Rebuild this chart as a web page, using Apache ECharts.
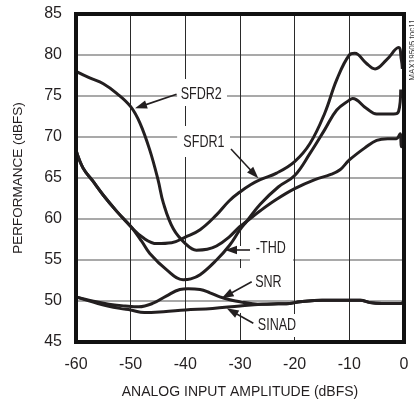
<!DOCTYPE html>
<html><head><meta charset="utf-8">
<script src="https://cdn.jsdelivr.net/npm/echarts@6/dist/echarts.min.js"></script>
<style>html,body{margin:0;padding:0;background:#fff;}#c{width:414px;height:404px;}</style>
</head><body><div id="c"></div>
<script>
// ---- data (x = analog input amplitude dBFS, y = performance dBFS) ----
const sfdr1 = [[-60,68.4],[-58.7,66.2],[-57,64.7],[-55,62.9],[-52.5,60.9],[-50,59.1],[-47.7,57.7],[-45.2,57.0],[-42.5,57.1],[-40,57.8],[-37.3,58.7],[-34.3,60.5],[-32,62.2],[-30,63.3],[-28,64.2],[-26.3,64.8],[-23.3,65.6],[-20,67.0],[-17.2,69.2],[-14.5,72.9],[-12.3,77.0],[-10,80.0],[-9,80.2],[-6.9,79.0],[-5.3,78.3],[-3.2,79.4],[-1.0,80.9],[-0.5,79.5],[-0.3,78.3]];
const sfdr2 = [[-60,78.0],[-57.5,77.2],[-55,76.5],[-52.5,75.3],[-50,73.7],[-48.3,71.7],[-46.5,68.4],[-45,64.8],[-44,61.9],[-42.2,58.8],[-40,57.0],[-38,56.2],[-36,56.3],[-34.3,56.7],[-32,57.8],[-30,59.1],[-28.8,59.7],[-26.3,61.0],[-23.3,62.4],[-20,63.7],[-16.3,64.8],[-13.5,65.4],[-11.7,66.0],[-10,67.2],[-6.9,68.8],[-5,69.6],[-3,69.8],[-1.4,69.8],[-0.7,70.4],[-0.5,68.8],[-0.3,69.6]];
const thd = [[-60,68.4],[-58.7,66.2],[-57,64.7],[-55,62.9],[-52.5,60.9],[-50,59.1],[-48,57.3],[-46.5,55.8],[-43.4,53.8],[-40.4,52.6],[-39,52.7],[-37.3,53.2],[-34.3,55.0],[-31.9,56.8],[-30,58.7],[-28.8,59.7],[-26.3,61.8],[-23,63.9],[-20,65.3],[-17.2,68.0],[-14.5,70.9],[-12.3,73.3],[-10,74.5],[-9.4,74.7],[-6.9,73.5],[-5,72.8],[-1.9,72.8],[-1.0,73.1],[-0.6,75.8]];
const snr = [[-60,50.5],[-57,50.0],[-54,49.6],[-51,49.4],[-48.5,49.3],[-46,49.7],[-43.5,50.6],[-41,51.4],[-39.5,51.5],[-37.3,51.4],[-35.5,51.0],[-33.7,50.5],[-31.5,50.1],[-30,49.9],[-28,49.7],[-26,49.6],[-23,49.65],[-20.9,49.7],[-19,49.9],[-15,50.1],[-10,50.1],[-8,50.1],[-6.2,49.8],[-4,49.7],[-0.7,49.7],[-0.3,49.8]];
const sinad = [[-60,50.5],[-56,49.7],[-52,49.1],[-50,48.9],[-47.5,48.6],[-44,48.7],[-40,48.9],[-35,49.1],[-30,49.4],[-26,49.6],[-23,49.65],[-20.9,49.7],[-19,49.9],[-15,50.1],[-10,50.1],[-8,50.1],[-6.2,49.8],[-4,49.7],[-0.7,49.7],[-0.3,49.8]];
const xTicks = [-60,-50,-40,-30,-20,-10,0];
const yTicks = [45,50,55,60,65,70,75,80,85];
const seriesNames = ['SFDR1','SFDR2','-THD','SNR','SINAD'];

// ---- annotations (data coordinates) ----
const notes = [
  {text:'SFDR2', at:[-37.1,75.24], box:[[-41.5,77.07],[-32.38,73.78]], tail:[-41.6,75.2], tip:[-49.2,73.5]},
  {text:'SFDR1', at:[-36.6,69.39], box:[[-41.5,71.34],[-31.83,67.56]], tail:[-31.65,68.54], tip:[-26.65,64.96]},
  {text:'-THD',  at:[-24.37,56.46], box:[[-28.17,57.44],[-20.3,54.76]], tail:[-28.17,56.22], tip:[-32.74,56.22]},
  {text:'SNR',   at:[-24.8,52.32], box:[[-27.8,53.66],[-21.22,51.1]], tail:[-27.86,52.35], tip:[-33.35,50.33]},
  {text:'SINAD', at:[-23.23,47.07], box:[[-27.44,48.41],[-19.02,45.61]], tail:[-27.57,47.28], tip:[-32.43,49.11]}
];
const gaps = [ [[-30.6,56.71],[-29.4,55.12]], [[-30.6,54.02],[-29.4,48.54]] ];

const INK = '#231f20';
const FONT = '"Liberation Sans", Arial, sans-serif';

const chart = echarts.init(document.getElementById('c'), null, {renderer:'canvas'});
const grid = {left:76, top:14, width:328, height:328};
const mk = (name, data) => ({name, type:'line', data, showSymbol:false, symbol:'none', smooth:0.4,
  lineStyle:{color:INK, width:3}, z:3});
chart.setOption({
  animation:false,
  backgroundColor:'#fff',
  grid,
  xAxis:{type:'value', min:xTicks[0], max:xTicks[xTicks.length-1], interval:10,
    axisLine:{show:false}, axisTick:{show:false},
    splitLine:{show:true, lineStyle:{color:'#2a2a2a', width:1}},
    axisLabel:{margin:15, fontSize:16, fontFamily:FONT, color:INK},
    name:'ANALOG INPUT AMPLITUDE (dBFS)', nameLocation:'middle', nameGap:43,
    nameTextStyle:{fontSize:14, fontFamily:FONT, color:INK}},
  yAxis:{type:'value', min:yTicks[0], max:yTicks[yTicks.length-1], interval:5,
    axisLine:{show:false}, axisTick:{show:false},
    splitLine:{show:true, lineStyle:{color:'#8c8c8c', width:1.5}},
    axisLabel:{margin:14, fontSize:16, fontFamily:FONT, color:INK},
    name:'PERFORMANCE (dBFS)', nameLocation:'middle', nameGap:51,
    nameTextStyle:{fontSize:13.5, fontFamily:FONT, color:INK}},
  series:[mk(seriesNames[0],sfdr1), mk(seriesNames[1],sfdr2), mk(seriesNames[2],thd), mk(seriesNames[3],snr), mk(seriesNames[4],sinad)]
});

const P = p => chart.convertToPixel({gridIndex:0}, p);
const g = [];
function rectFrom(a,b,z){
  const p1=P(a), p2=P(b);
  return {type:'rect', z, silent:true, shape:{x:Math.min(p1[0],p2[0]), y:Math.min(p1[1],p2[1]), width:Math.abs(p2[0]-p1[0]), height:Math.abs(p2[1]-p1[1])}, style:{fill:'#fff'}};
}
gaps.forEach(r => g.push(rectFrom(r[0], r[1], 1)));
notes.forEach(n => {
  g.push(rectFrom(n.box[0], n.box[1], 1));
  const c = P(n.at);
  g.push({type:'text', z:10, silent:true, x:c[0], y:c[1], scaleX:0.76, scaleY:1,
    style:{text:n.text, font:'16.5px ' + FONT, fill:INK, textAlign:'center', textVerticalAlign:'middle'}});
  const t = P(n.tail), h = P(n.tip);
  const dx = h[0]-t[0], dy = h[1]-t[1], L = Math.hypot(dx,dy), ux = dx/L, uy = dy/L;
  const headLen = 12, headW = 4.2;
  const bx = h[0]-ux*headLen, by = h[1]-uy*headLen;
  g.push({type:'line', z:10, silent:true, shape:{x1:t[0], y1:t[1], x2:bx+ux*2, y2:by+uy*2}, style:{stroke:INK, lineWidth:1.6}});
  g.push({type:'polygon', z:10, silent:true, shape:{points:[[h[0],h[1]],[bx-uy*headW, by+ux*headW],[bx+uy*headW, by-ux*headW]]}, style:{fill:INK}});
});
// frame
const tl = P([xTicks[0], yTicks[yTicks.length-1]]), br = P([xTicks[xTicks.length-1], yTicks[0]]);
g.push({type:'rect', z:20, silent:true, shape:{x:tl[0], y:tl[1], width:br[0]-tl[0], height:br[1]-tl[1]}, style:{fill:null, stroke:'#111', lineWidth:4}});
// figure tag
g.push({type:'text', z:20, silent:true, x:412, y:50, rotation:Math.PI/2, scaleX:0.85,
  style:{text:'MAX19505 toc11', font:'9.5px ' + FONT, fill:'#333', textAlign:'center', textVerticalAlign:'middle'}});
chart.setOption({graphic:{elements:g}});
</script></body></html>
